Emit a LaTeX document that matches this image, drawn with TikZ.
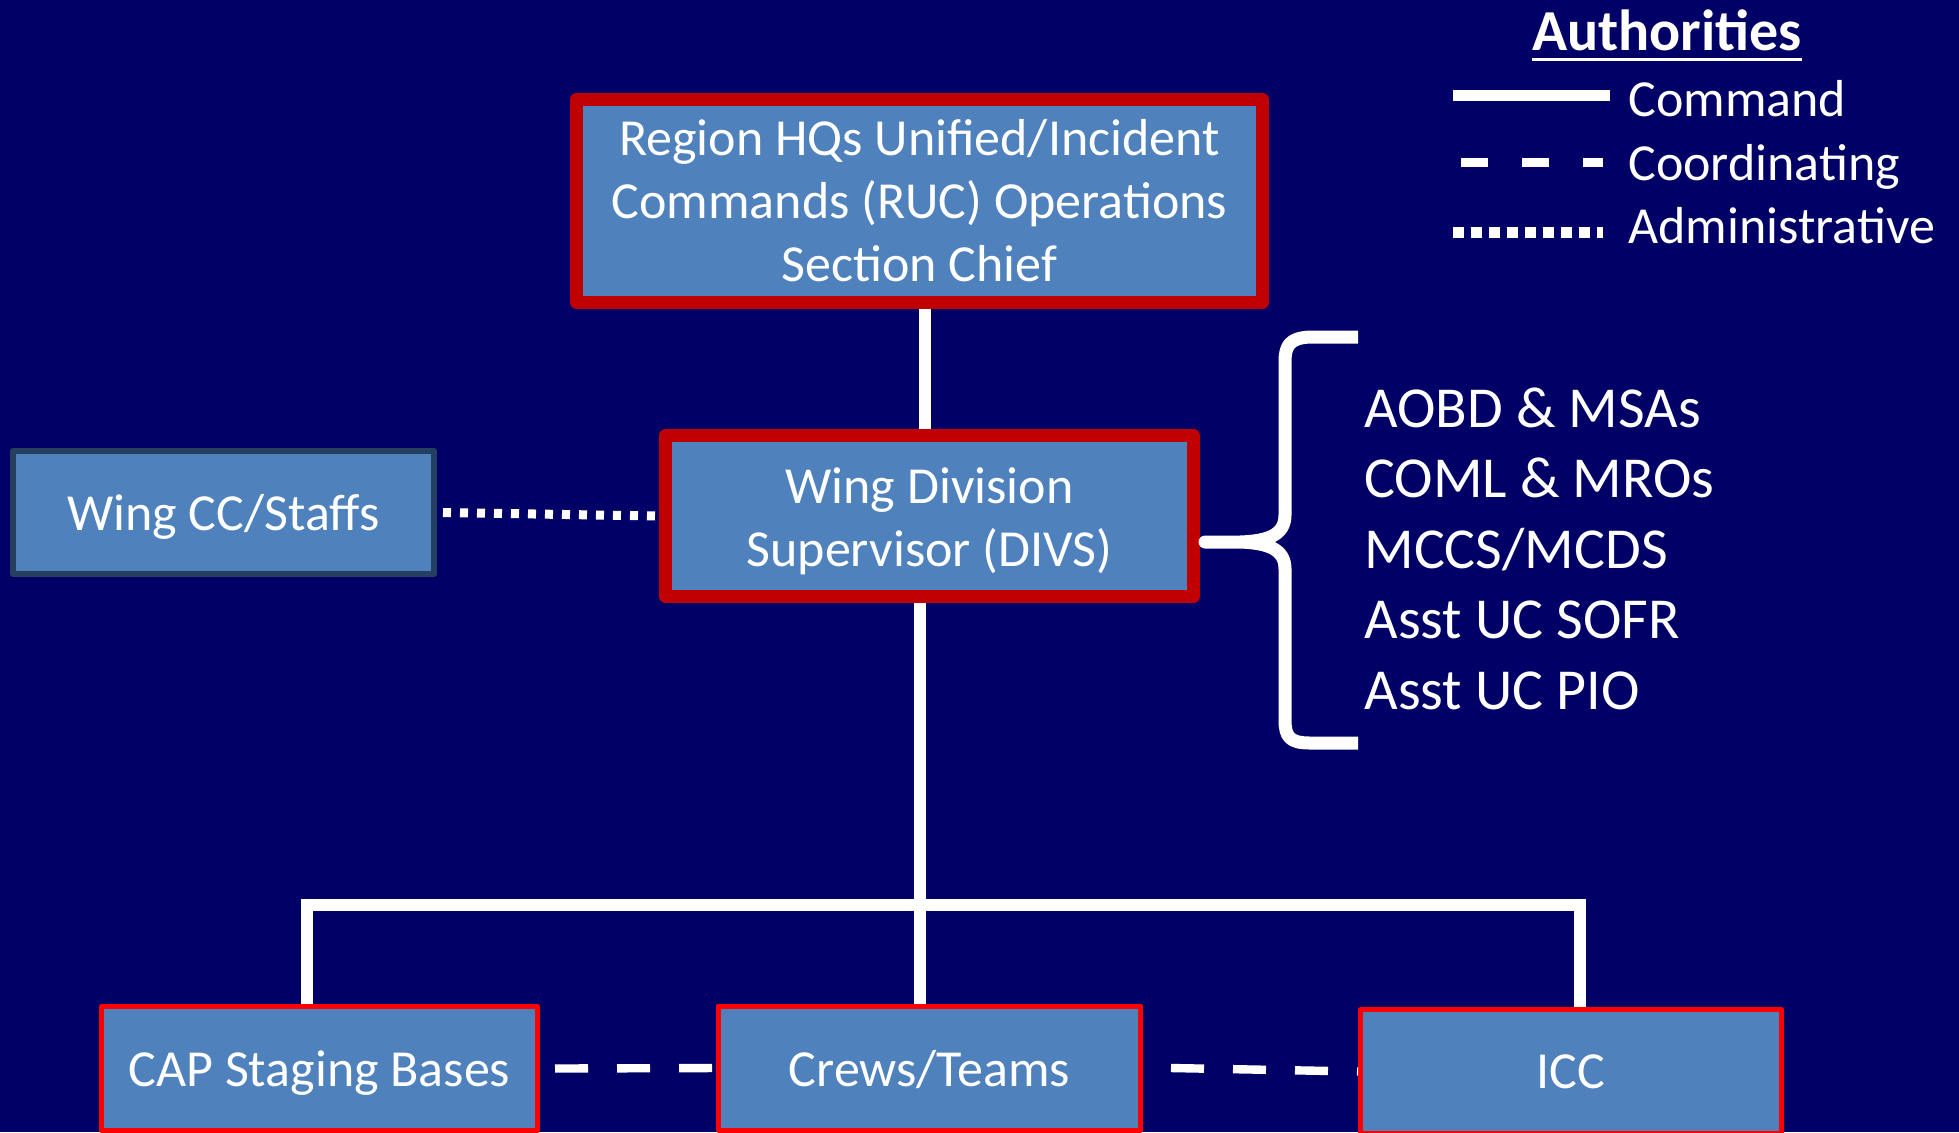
\documentclass[tikz,border=0pt]{standalone}
\usepackage{fontspec}
\setmainfont{Carlito}
\usetikzlibrary{arrows.meta}
\definecolor{slidenavy}{HTML}{000066}
\definecolor{boxblue}{HTML}{4F81BD}
\definecolor{leadred}{HTML}{C00000}
\definecolor{fieldred}{HTML}{FF0000}
\definecolor{staffslate}{HTML}{243F60}
\newcommand{\boxfont}{\fontsize{26}{31.5}\selectfont}
\newcommand{\listfont}{\fontsize{29}{35.25}\selectfont}
\tikzset{
    unit/.style={rectangle,fill=boxblue,text=white,align=center,font=\boxfont,inner sep=2pt,line join=round},
    oneline/.style={text depth=0pt},
    lead/.style={unit,draw=leadred,line width=6.5pt},
    staff/.style={unit,oneline,draw=staffslate,line width=3pt},
    field/.style={unit,oneline,draw=fieldred,line width=2.5pt,minimum height=62pt},
    cmdline/.style={draw=white,line width=6pt},
    coordline/.style={draw=white,line width=4.2pt,dash pattern=on 16.5pt off 14.5pt},
    adminline/.style={draw=white,line width=4.5pt,dash pattern=on 4pt off 4.5pt},
    legend/.style={text=white,font=\boxfont,anchor=base west,inner sep=0pt},
}

\begin{document}
\begin{tikzpicture}[x=0.5pt,y=-0.5pt]
    \useasboundingbox (0,0) rectangle (1959,1132);
    \fill[slidenavy] (0,0) rectangle (1959,1132);

    % chart boxes
    \node[lead,minimum width=343pt,minimum height=101.5pt] (rhq) at (919.5,201) {Region HQs Unified/Incident\\Commands (RUC) Operations\\Section Chief};
    \node[lead,minimum width=264pt,minimum height=80.5pt] (divs) at (929.5,516) {\rule{0pt}{23pt}Wing Division\\Supervisor (DIVS)};
    \node[staff,minimum width=210.5pt,minimum height=61.5pt] (wcc) at (223.5,512.5) {Wing CC/Staffs};
    \node[field,minimum width=218pt] (cap) at (319.5,1068.5) {CAP Staging Bases};
    \node[field,minimum width=211pt] (crews) at (929.5,1068) {Crews/Teams};
    \node[field,minimum width=210.5pt] (icc) at (1571,1071.5) {ICC};

    % command tree
    \coordinate (jl) at (307,905);
    \coordinate (jn) at (920,905);
    \coordinate (jr) at (1580,905);
    \draw[cmdline] ([xshift=2.75pt]rhq.south) -- ([xshift=-2.25pt]divs.north);
    \draw[cmdline] ([xshift=-4.75pt]divs.south) -- (jn);
    \draw[cmdline] (jl |- cap.north) -- (jl) -- (jr) -- (jr |- icc.north);
    \draw[cmdline] (jn) -- (jn |- crews.north);

    % other authorities
    \draw[adminline] ([xshift=3pt]wcc.east) -- (divs.west);
    \draw[coordline] ([xshift=7.5pt]cap.east) -- (crews.west);
    \draw[coordline] ([xshift=14pt]crews.east) -- (icc.west);

    % brace and list
    \draw[white,line width=6.5pt,line join=round] (1358,337) -- (1310,337)
        .. controls (1290,338) and (1285,345) .. (1285,362) -- (1285,515)
        .. controls (1285,535) and (1268,541) .. (1240,542) -- (1205,542) -- (1240,542)
        .. controls (1268,543) and (1285,549) .. (1285,569) -- (1285,720)
        .. controls (1285,737) and (1290,743) .. (1310,743) -- (1358,743);
    \node[text=white,font=\listfont,align=left,anchor=west,inner sep=0pt] (roles) at (1364,548.5)
        {AOBD \& MSAs\\COML \& MROs\\MCCS/MCDS\\Asst UC SOFR\\Asst UC PIO};

    % legend
    \node[text=white,font=\bfseries\fontsize{29}{35}\selectfont,anchor=base,inner sep=0pt] (ttl) at (1667,50) {Authorities};
    \draw[white,line width=1.5pt] ([yshift=-4.5pt]ttl.base west) -- ([yshift=-4.5pt]ttl.base east);
    \node[legend] (lgcmd) at (1628,116) {Command};
    \node[legend] (lgcoord) at (1628,180) {Coordinating};
    \node[legend] (lgadmin) at (1628,243) {Administrative};
    \draw[cmdline,line width=5.5pt] ([xshift=-87.5pt,yshift=10.5pt]lgcmd.base west) -- ++(157,0);
    \draw[coordline,line width=4.5pt,dash pattern=on 13.5pt off 17pt] ([xshift=-83.5pt,yshift=9pt]lgcoord.base west) -- ++(142,0);
    \draw[adminline,line width=5.5pt,dash pattern=on 5.25pt off 3.75pt] ([xshift=-87.5pt,yshift=5.5pt]lgadmin.base west) -- ++(150,0);
\end{tikzpicture}
\end{document}
